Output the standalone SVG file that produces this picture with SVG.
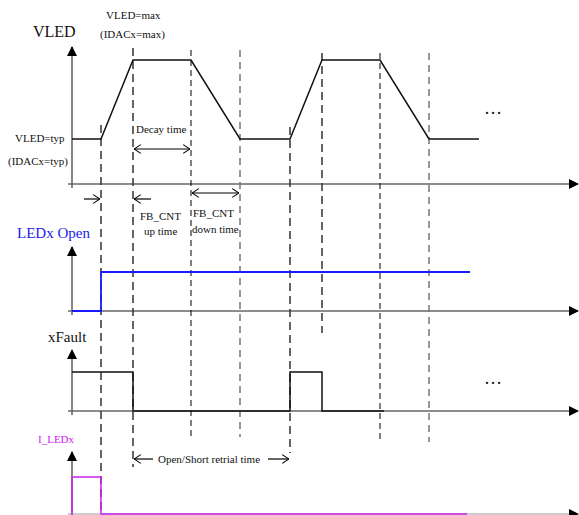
<svg xmlns="http://www.w3.org/2000/svg" width="579" height="515" viewBox="0 0 579 515">
<defs>
<marker id="tri" viewBox="0 0 10 10" refX="9" refY="5" markerWidth="10" markerHeight="10" markerUnits="userSpaceOnUse" orient="auto"><path d="M0,0 L10,5 L0,10 z" fill="#000"/></marker>
<marker id="v" viewBox="0 0 10 12" refX="9.5" refY="6" markerWidth="8" markerHeight="10" markerUnits="userSpaceOnUse" orient="auto-start-reverse"><path d="M1,0.5 L9.5,6 L1,11.5" fill="none" stroke="#000" stroke-width="1.3"/></marker>
</defs>
<style>
text{font-family:"Liberation Serif","Times New Roman",serif;fill:#111}
.ax{stroke:#666;stroke-width:1.5;fill:none}
.axv{stroke:#444;stroke-width:1.3;fill:none}
.wave{stroke:#111;stroke-width:1.5;fill:none}
.d1{stroke:#333;stroke-width:1.5;stroke-dasharray:8 5;fill:none}
.d2{stroke:#000;stroke-width:1;stroke-dasharray:6 4;fill:none}
.d3{stroke:#777;stroke-width:1.5;stroke-dasharray:7 5;fill:none}
.arr{stroke:#000;stroke-width:1.2;fill:none}
</style>
<rect width="579" height="515" fill="#fff"/>

<g id="axes">
<line class="axv" x1="72" y1="188" x2="72" y2="47" marker-end="url(#tri)"/>
<line class="ax" x1="68" y1="184" x2="578" y2="184" marker-end="url(#tri)"/>
<line class="axv" x1="72" y1="315" x2="72" y2="247" marker-end="url(#tri)"/>
<line class="ax" x1="68" y1="311" x2="578" y2="311" marker-end="url(#tri)"/>
<line class="axv" x1="72" y1="415" x2="72" y2="350" marker-end="url(#tri)"/>
<line class="ax" x1="68" y1="411" x2="578" y2="411" marker-end="url(#tri)"/>
<line class="axv" x1="72" y1="515" x2="72" y2="452" marker-end="url(#tri)"/>
<line x1="68" y1="514" x2="578" y2="514" stroke="#bbb" stroke-width="1.5" marker-end="url(#tri)"/>
</g>

<g id="dashes">
<line class="d1" x1="101" y1="125" x2="101" y2="515"/>
<line class="d1" x1="133" y1="48" x2="133" y2="467"/>
<line class="d2" x1="191" y1="50" x2="191" y2="437"/>
<line class="d3" x1="240" y1="50" x2="240" y2="437"/>
<line class="d1" x1="290" y1="127" x2="290" y2="453"/>
<line class="d1" x1="322" y1="53" x2="322" y2="333"/>
<line class="d2" x1="380" y1="53" x2="380" y2="442"/>
<line class="d3" x1="429" y1="53" x2="429" y2="442"/>
</g>

<g id="vled-wave">
<polyline class="wave" points="72,139 101,139 133,60 191,60 240,139 290,139 322,60 380,60 429,139 479,139"/>
<text x="484" y="114" font-size="18">…</text>
</g>

<g id="ledx-open-wave">
<polyline points="72,311 101,311 101,272 470,272" fill="none" stroke="#1a1aff" stroke-width="1.8"/>
</g>

<g id="xfault-wave">
<polyline class="wave" points="72,372 133,372 133,411 290,411 290,372 322,372 322,411 384,411"/>
<text x="484" y="384" font-size="18">…</text>
</g>

<g id="iledx-wave">
<polyline points="72,515 72,477 101,477 101,514 467,514" fill="none" stroke="#cc22ee" stroke-width="1.5"/>
</g>

<g id="connectors">
<line class="arr" x1="134" y1="149" x2="190" y2="149" marker-start="url(#v)" marker-end="url(#v)"/>
<line class="arr" x1="84" y1="199" x2="100" y2="199" marker-end="url(#v)"/>
<line class="arr" x1="151" y1="199" x2="134" y2="199" marker-end="url(#v)"/>
<line class="arr" x1="192" y1="193" x2="239" y2="193" marker-start="url(#v)" marker-end="url(#v)"/>
<line class="arr" x1="153" y1="459" x2="134" y2="459" marker-end="url(#v)"/>
<line class="arr" x1="268" y1="459" x2="289" y2="459" marker-end="url(#v)"/>
</g>

<g id="labels" font-family="Liberation Serif, serif">
<text x="33" y="37" font-size="16">VLED</text>
<text x="106" y="19" font-size="11">VLED=max</text>
<text x="100" y="38" font-size="11">(IDACx=max)</text>
<text x="15" y="142" font-size="11">VLED=typ</text>
<text x="8" y="165" font-size="11">(IDACx=typ)</text>
<text x="136" y="133" font-size="11">Decay time</text>
<text x="140" y="220" font-size="11">FB_CNT</text>
<text x="144" y="235" font-size="11">up time</text>
<text x="193" y="217" font-size="11">FB_CNT</text>
<text x="192" y="233" font-size="11">down time</text>
<text x="17" y="238" font-size="15" style="fill:#2222ee">LEDx Open</text>
<text x="48" y="342" font-size="15">xFault</text>
<text x="38" y="443" font-size="11" style="fill:#cc22ee">I_LEDx</text>
<text x="158" y="463" font-size="11">Open/Short retrial time</text>
</g>
</svg>
